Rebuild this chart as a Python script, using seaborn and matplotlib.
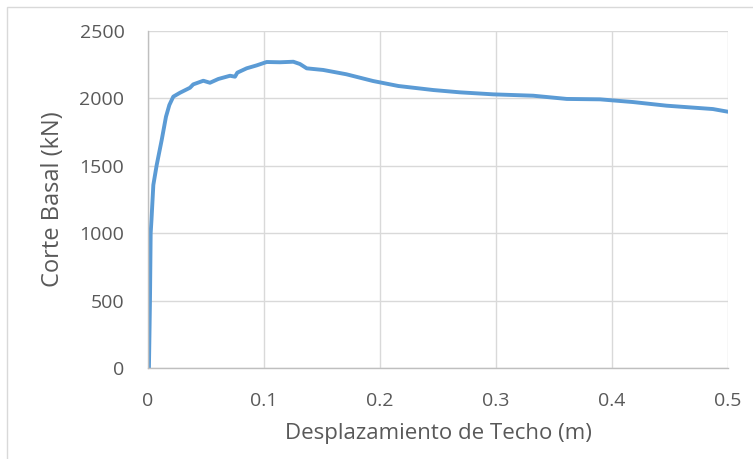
import matplotlib
matplotlib.use("Agg")
import matplotlib.pyplot as plt
import seaborn as sns
import pandas as pd
from matplotlib.patches import Rectangle

desplazamiento = [0.0, 0.0008, 0.0017, 0.0023, 0.0030, 0.0046, 0.0075, 0.0118, 0.0155, 0.0184,
                  0.0218, 0.0276, 0.0362, 0.0390, 0.0477, 0.0534, 0.0606, 0.0707, 0.0750,
                  0.0770, 0.0850, 0.0937, 0.1023, 0.1138, 0.1253, 0.1310, 0.1368, 0.1510,
                  0.1710, 0.1940, 0.2158, 0.2460, 0.2690, 0.2977, 0.3320, 0.3610, 0.3897,
                  0.4180, 0.4470, 0.4870, 0.5000]
corte = [0, 0, 500, 1000, 1100, 1358, 1506, 1691, 1864, 1951,
         2013, 2042, 2079, 2104, 2131, 2116, 2144, 2168, 2161,
         2191, 2223, 2245, 2270, 2268, 2272, 2255, 2223, 2211,
         2179, 2129, 2092, 2062, 2045, 2030, 2020, 1996, 1993,
         1973, 1946, 1921, 1901]
x_ticks = [0, 0.1, 0.2, 0.3, 0.4, 0.5]
x_labels = ["0", "0.1", "0.2", "0.3", "0.4", "0.5"]
y_ticks = [0, 500, 1000, 1500, 2000, 2500]
x_title = "Desplazamiento de Techo (m)"
y_title = "Corte Basal (kN)"

df = pd.DataFrame({"x": desplazamiento, "y": corte})

sns.set_theme(style="white")
plt.rcParams["font.family"] = ["Open Sans", "DejaVu Sans"]

fig = plt.figure(figsize=(7.53, 4.59), dpi=100)
ax = fig.add_axes([148/753, 1-368/459, 580/753, 337/459])

sns.lineplot(data=df, x="x", y="y", ax=ax, color="#5B9BD5", linewidth=2.8,
             estimator=None, sort=False)

ax.set_xlim(0, 0.5)
ax.set_ylim(0, 2500)
ax.set_xticks(x_ticks)
ax.set_xticklabels(x_labels)
ax.set_yticks(y_ticks)
ax.grid(True, color="#D9D9D9", linewidth=1.0)
ax.set_axisbelow(True)
for s in ["top", "right"]:
    ax.spines[s].set_visible(False)
for s in ["left", "bottom"]:
    ax.spines[s].set_color("#BFBFBF")
    ax.spines[s].set_linewidth(1.0)
ax.tick_params(axis="both", length=0, labelsize=14, labelcolor="#595959")
ax.tick_params(axis="x", pad=17.5)
ax.tick_params(axis="y", pad=17)
ax.set_xlabel(x_title, fontsize=16, color="#595959", va="center")
ax.set_ylabel(y_title, fontsize=17, color="#595959", va="center")
ax.xaxis.set_label_coords(0.5, (368-434)/337)
ax.yaxis.set_label_coords((53-148)/580, 0.5)

fig.patches.append(Rectangle((7/753, -0.1), 1.2, 1 - 7/459 + 0.1, transform=fig.transFigure,
                             fill=False, edgecolor="#D9D9D9", linewidth=1.0))

fig.savefig("out.png", dpi=100)
